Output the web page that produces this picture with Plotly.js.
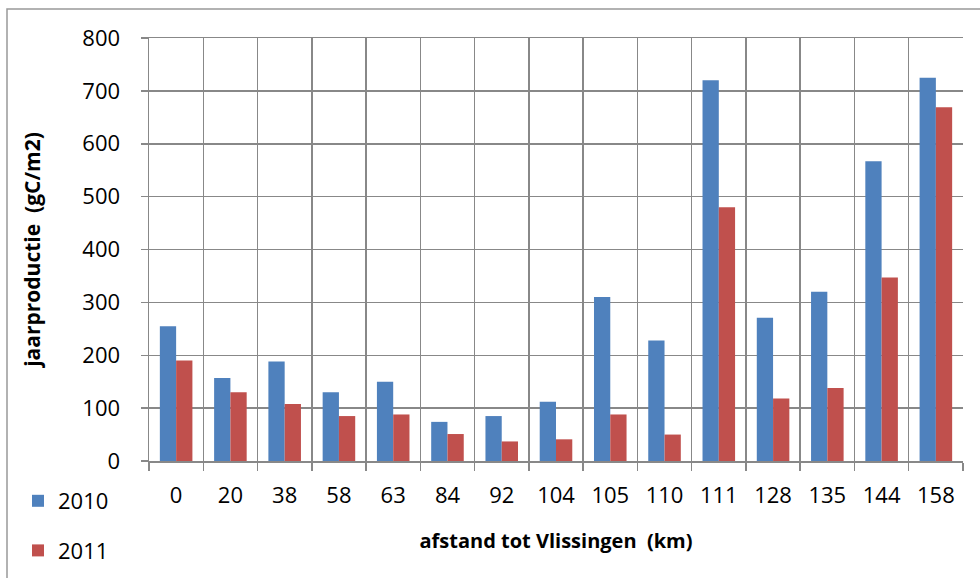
<!DOCTYPE html>
<html><head><meta charset="utf-8">
<script src="https://cdn.plot.ly/plotly-3.0.1.min.js"></script>
<style>html,body{margin:0;padding:0;background:#fff}#c{width:980px;height:578px}</style>
</head><body><div id="c"></div>
<script>
const categories = ["0","20","38","58","63","84","92","104","105","110","111","128","135","144","158"];
const values2010 = [255,157,188,130,150,74,85,112,310,228,720,271,320,567,725];
const values2011 = [190,130,108,85,88,51,37,41,88,50,480,118,138,347,669];
const yTicks = [0,100,200,300,400,500,600,700,800];

const W=980,H=578,L=149,R=17,T=38,B=117;
const pw=W-L-R, ph=H-T-B;
const px=x=>(x-L)/pw, py=y=>(H-B-y)/ph;
const font="Open Sans, Lato, sans-serif";
const grid="#888888";

const traces=[
 {type:"bar",x:categories,y:values2010,name:"2010",marker:{color:"#4F81BD"},legendgroup:"a"},
 {type:"bar",x:categories,y:values2011,name:"2011",marker:{color:"#C0504D"},legendgroup:"b"}
];
const layout={
 width:W,height:H,margin:{l:L,r:R,t:T,b:B,pad:0,autoexpand:false},
 paper_bgcolor:"#fff",plot_bgcolor:"#fff",
 bargap:0.4,bargroupgap:0,barmode:"group",
 font:{family:font,size:22,color:"#000"},
 showlegend:true,
 xaxis:{type:"category",tickson:"boundaries",showgrid:true,gridcolor:grid,gridwidth:1.5,automargin:false,
   ticks:"outside",ticklen:8,tickcolor:grid,tickwidth:1.5,showline:true,linecolor:grid,linewidth:1.5,
   mirror:true,ticklabelstandoff:14,tickfont:{size:22,family:font},
   title:{text:"<b>afstand tot Vlissingen  (km)</b>",font:{size:20,family:font},standoff:26}},
 yaxis:{range:[0,800],tickvals:yTicks,showgrid:true,gridcolor:grid,gridwidth:1.5,automargin:false,
   ticks:"outside",ticklen:7,tickcolor:grid,tickwidth:1.5,showline:true,linecolor:grid,linewidth:1.5,
   zeroline:false,ticklabelstandoff:16,tickfont:{size:22,family:font},
   title:{text:"<b>jaarproductie  (gC/m2)</b>",font:{size:21,family:font},standoff:36}},
 legend:{x:px(18),y:py(480),xanchor:"left",yanchor:"top",font:{size:22},bgcolor:"rgba(0,0,0,0)",
   traceorder:"grouped",tracegroupgap:18,itemsizing:"constant"},
 shapes:[{type:"rect",xref:"paper",yref:"paper",x0:px(7),x1:px(990),y0:py(9),y1:py(590),
   line:{color:"#999",width:1.5},layer:"below"}]
};
Plotly.newPlot("c",traces,layout,{staticPlot:true});
</script></body></html>
